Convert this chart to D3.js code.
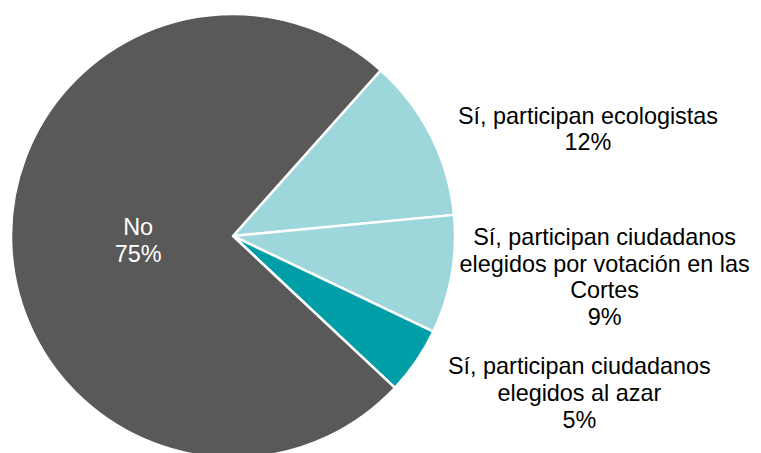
<!DOCTYPE html>
<html>
<head>
<meta charset="utf-8">
<script src="https://cdn.jsdelivr.net/npm/d3@7"></script>
<style>
  body { margin: 0; background: #fff; }
  svg { display: block; }
  text { font-family: "Liberation Sans", Arial, sans-serif; font-size: 23.4px; }
</style>
</head>
<body>
<div id="chart"></div>
<script>
// Data
var categories = [
    ["Sí, participan ecologistas"],
    ["Sí, participan ciudadanos", "elegidos por votación en las", "Cortes"],
    ["Sí, participan ciudadanos", "elegidos al azar"],
    ["No"]
];
var shares = [11.9, 8.6, 4.9, 74.6];
var percentLabels = ["12%", "9%", "5%", "75%"];

// Setup
var width = 761,
    height = 453,
    radius = 222,
    cx = 233,
    cy = 236,
    lineH = 26.7;

var colors = ["#9dd7db", "#9dd7db", "#009ea6", "#595959"];

// label nudges relative to the slice's outer-edge midpoint (last one is inside)
var labelNudge = [[157, 1.5], [153, 10.5], [163, 40], [0, 8]];

var startA = 41.7 * Math.PI / 180;

var pie = d3.pie()
    .sort(null)
    .startAngle(startA)
    .endAngle(startA + 2 * Math.PI)
    .value(function(d) { return d; });

var arc = d3.arc().innerRadius(0).outerRadius(radius);
var edgeArc = d3.arc().innerRadius(radius).outerRadius(radius);
var insideArc = d3.arc().innerRadius(95).outerRadius(95);

var svg = d3.select("#chart").append("svg")
    .attr("width", width)
    .attr("height", height);

var g = svg.append("g")
    .attr("transform", "translate(" + cx + "," + cy + ")");

var slices = pie(shares);

g.selectAll("path.slice")
    .data(slices).enter().append("path")
    .attr("class", "slice")
    .attr("d", arc)
    .attr("fill", function(d, i) { return colors[i]; })
    .attr("stroke", "#fff")
    .attr("stroke-width", 2.5)
    .attr("stroke-linejoin", "round");

// labels
var labels = g.selectAll("text.lbl")
    .data(slices).enter().append("text")
    .attr("class", "lbl")
    .attr("text-anchor", "middle")
    .attr("fill", function(d, i) { return i === 3 ? "#fff" : "#000"; })
    .each(function(d, i) {
        var p = (i === 3 ? insideArc : edgeArc).centroid(d);
        var x = p[0] + labelNudge[i][0],
            mid = p[1] + labelNudge[i][1];
        var lines = categories[i].concat([percentLabels[i]]);
        var n = lines.length;
        var t = d3.select(this);
        lines.forEach(function(line, k) {
            t.append("tspan")
                .attr("x", x)
                .attr("y", mid + (k - (n - 1) / 2) * lineH)
                .text(line);
        });
    });
</script>
</body>
</html>
